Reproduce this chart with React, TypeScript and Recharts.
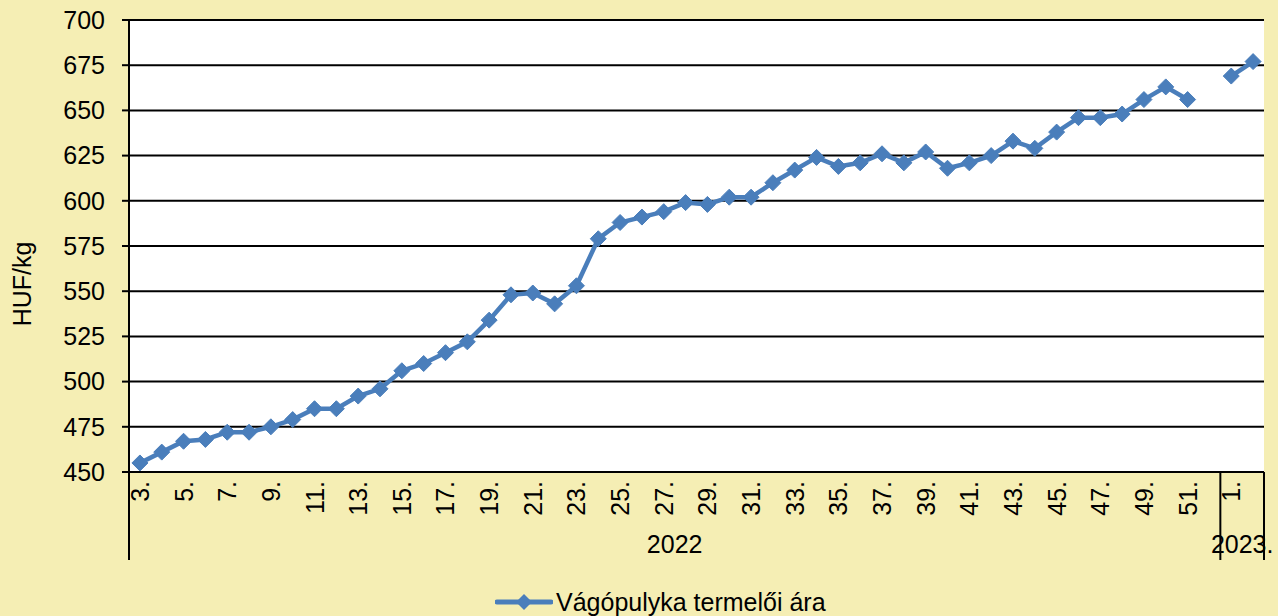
import React from 'react';
import { LineChart, Line, XAxis, YAxis, CartesianGrid, Legend } from 'recharts';

// weekly producer price of slaughter turkey, HUF/kg
const weekLabels = [
  '3.', '4.', '5.', '6.', '7.', '8.', '9.', '10.', '11.', '12.',
  '13.', '14.', '15.', '16.', '17.', '18.', '19.', '20.', '21.', '22.',
  '23.', '24.', '25.', '26.', '27.', '28.', '29.', '30.', '31.', '32.',
  '33.', '34.', '35.', '36.', '37.', '38.', '39.', '40.', '41.', '42.',
  '43.', '44.', '45.', '46.', '47.', '48.', '49.', '50.', '51.', '52.',
  '1.', '2.'
];

const prices: (number | null)[] = [
  455, 461, 467, 468, 472, 472, 475, 479, 485, 485,
  492, 496, 506, 510, 516, 522, 534, 548, 549, 543,
  553, 579, 588, 591, 594, 599, 598, 602, 602, 610,
  617, 624, 619, 621, 626, 621, 627, 618, 621, 625,
  633, 629, 638, 646, 646, 648, 656, 663, 656, null,
  669, 677
];

const yearGroups = [
  { label: '2022', count: 50 },
  { label: '2023.', count: 2 }
];

const yTicks = [450, 475, 500, 525, 550, 575, 600, 625, 650, 675, 700];

const seriesName = 'Vágópulyka termelői ára';

const CHART_W = 1278;
const CHART_H = 616;
const MARGIN = { top: 20, right: 14, bottom: 0, left: 0 };
const Y_AXIS_W = 129;
const BG = '#F5EEB4';
const BLUE = '#4A7EBB';
const FONT = '"Liberation Sans", Arial, sans-serif';

const data = weekLabels.map((week, i) => ({ week, price: prices[i] }));

// group start indexes for the year row
const groupStarts: number[] = [];
yearGroups.reduce((acc, g) => { groupStarts.push(acc); return acc + g.count; }, 0);

const WeekTick = (props: any) => {
  const { x, y, payload } = props;
  const i = payload?.index ?? props.index;
  const plotW = CHART_W - MARGIN.left - MARGIN.right - Y_AXIS_W;
  const half = payload?.offset || plotW / weekLabels.length / 2;
  const parts: React.ReactNode[] = [];

  if (i % 2 === 0) {
    parts.push(
      <text key="w" x={x} y={y + 9} transform={`rotate(-90, ${x}, ${y + 9})`}
        textAnchor="end" dominantBaseline="central" fontSize={25} fill="#000" fontFamily={FONT}>
        {payload.value}
      </text>
    );
  }

  const g = groupStarts.indexOf(i);
  if (g >= 0) {
    const gx = x - half;
    parts.push(<line key="s" x1={gx} x2={gx} y1={y} y2={y + 88} stroke="#000" strokeWidth={2} />);
    parts.push(
      <text key="y" x={gx + yearGroups[g].count * half} y={y + 72} textAnchor="middle"
        dominantBaseline="central" fontSize={25} fill="#000" fontFamily={FONT}>
        {yearGroups[g].label}
      </text>
    );
  }
  if (i === weekLabels.length - 1) {
    parts.push(<line key="e" x1={x + half} x2={x + half} y1={y} y2={y + 88} stroke="#000" strokeWidth={2} />);
  }
  return <g>{parts}</g>;
};

const Diamond = (props: any) => {
  const { cx, cy, index } = props;
  if (cx == null || cy == null || props.value == null) return <g key={`d-${index}`} />;
  const r = 8;
  return (
    <polygon key={`d-${index}`}
      points={`${cx},${cy - r} ${cx + r},${cy} ${cx},${cy + r} ${cx - r},${cy}`}
      fill={BLUE} stroke={BLUE} strokeWidth={1} />
  );
};

const LegendBox = ({ payload }: any) => {
  const item = payload && payload[0];
  return (
    <div style={{
      height: 44, boxSizing: 'border-box', paddingTop: 16, paddingLeft: 495,
      display: 'flex', alignItems: 'center', fontFamily: FONT, fontSize: 25, color: '#000'
    }}>
      <svg width={58} height={20} style={{ marginRight: 3 }}>
        <line x1={2} x2={56} y1={10} y2={10} stroke={BLUE} strokeWidth={5} strokeLinecap="round" />
        <polygon points="29,2 37,10 29,18 21,10" fill={BLUE} />
      </svg>
      <span style={{ lineHeight: '25px' }}>{item ? item.value : seriesName}</span>
    </div>
  );
};

const App = () => {
  return (
    <div style={{
      position: 'absolute', left: 0, top: 0, width: CHART_W, height: CHART_H,
      background: BG, fontFamily: FONT
    }}>
      <LineChart width={CHART_W} height={CHART_H} data={data} margin={MARGIN}>
        <CartesianGrid vertical={false} stroke="#000" strokeWidth={2} fill="#fff" />
        <XAxis
          dataKey="week"
          scale="band"
          interval={0}
          height={100}
          tickSize={0}
          tickMargin={0}
          tickLine={false}
          axisLine={{ stroke: '#000', strokeWidth: 2 }}
          tick={<WeekTick />}
        />
        <YAxis
          width={Y_AXIS_W}
          domain={[450, 700]}
          ticks={yTicks}
          interval={0}
          tickSize={7}
          tickMargin={17}
          axisLine={{ stroke: '#000', strokeWidth: 2 }}
          tickLine={{ stroke: '#000', strokeWidth: 2 }}
          tick={{ fontSize: 25, fill: '#000', fontFamily: FONT }}
          label={({ viewBox }: any) => {
            const cx = (viewBox?.x ?? 0) + 22;
            const cy = (viewBox?.y ?? 20) + (viewBox?.height ?? 452) / 2 + 38;
            return (
              <text x={cx} y={cy} transform={`rotate(-90, ${cx}, ${cy})`} textAnchor="middle"
                dominantBaseline="central" fontSize={25} fill="#000" fontFamily={FONT}>
                HUF/kg
              </text>
            );
          }}
        />
        <Legend verticalAlign="bottom" content={<LegendBox />} wrapperStyle={{ left: 0, width: CHART_W }} />
        <Line
          type="linear"
          dataKey="price"
          name={seriesName}
          stroke={BLUE}
          strokeWidth={4.5}
          dot={Diamond}
          activeDot={false}
          connectNulls={false}
          isAnimationActive={false}
        />
      </LineChart>
    </div>
  );
};

export default App;
